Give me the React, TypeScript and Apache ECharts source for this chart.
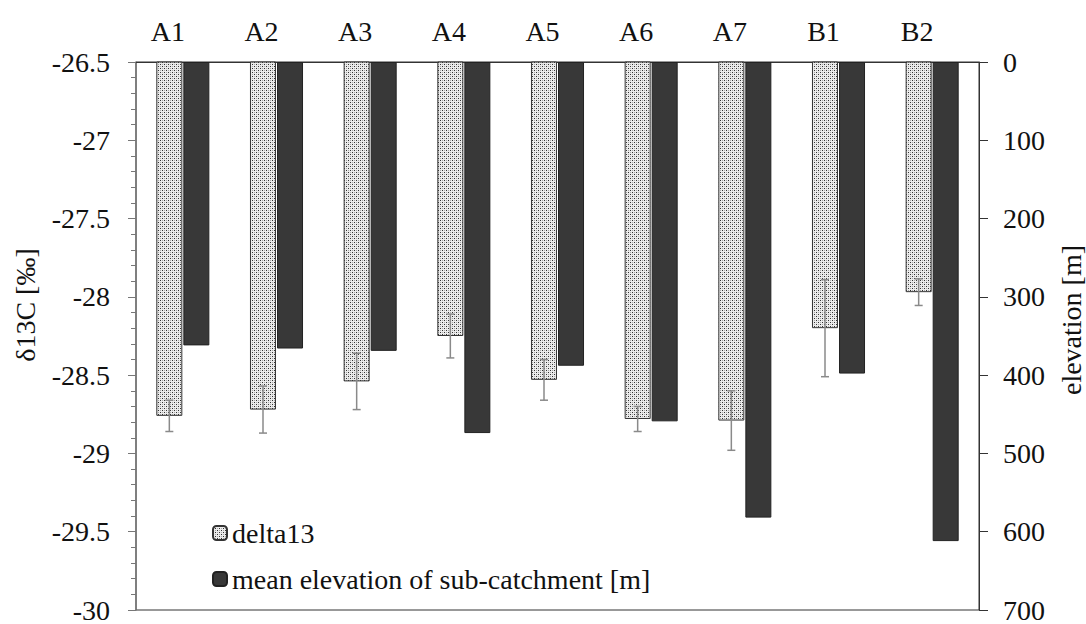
import React, { useEffect, useRef } from 'react';
import * as echarts from 'echarts';

const categories = ['A1', 'A2', 'A3', 'A4', 'A5', 'A6', 'A7', 'B1', 'B2'];
const delta13 = [-28.76, -28.72, -28.54, -28.25, -28.53, -28.78, -28.79, -28.2, -27.97];
const delta13Err = [0.1, 0.15, 0.18, 0.14, 0.13, 0.08, 0.19, 0.31, 0.085];
const elevation = [362, 366, 369, 474, 388, 459, 582, 398, 612];

const FONT = 'Liberation Serif';
const FS = 28;

function makePattern(): string {
  const c = document.createElement('canvas');
  c.width = 4;
  c.height = 4;
  const ctx = c.getContext('2d')!;
  ctx.fillStyle = '#ececec';
  ctx.fillRect(0, 0, 4, 4);
  ctx.fillStyle = '#333333';
  ctx.fillRect(0, 0, 1, 1);
  ctx.fillRect(2, 2, 1, 1);
  ctx.fillStyle = '#a8a8a8';
  ctx.fillRect(2, 0, 1, 1);
  ctx.fillRect(0, 2, 1, 1);
  return c.toDataURL();
}

export default function App() {
  const ref = useRef<HTMLDivElement>(null);
  useEffect(() => {
    if (!ref.current) return;
    const chart = echarts.init(ref.current, undefined, { renderer: 'svg' });
    const pattern = makePattern();
    const errData = categories.map((_, i) => [i, delta13[i] - delta13Err[i], delta13[i] + delta13Err[i]]);
    const option: any = {
      animation: false,
      backgroundColor: '#ffffff',
      textStyle: { fontFamily: FONT, color: '#111' },
      grid: {
        left: 136,
        right: 107,
        top: 62,
        bottom: 10,
        show: true,
        borderColor: '#333',
        borderWidth: 1,
        backgroundColor: 'transparent',
      },
      legend: {
        orient: 'vertical',
        left: 207,
        top: 513,
        itemWidth: 14,
        itemHeight: 14,
        itemGap: 16,
        textStyle: { fontFamily: FONT, fontSize: FS, color: '#111', lineHeight: 30 },
        data: ['delta13', 'mean elevation of sub-catchment [m]'],
      },
      xAxis: {
        type: 'category',
        position: 'top',
        data: categories,
        axisLine: { show: true, lineStyle: { color: '#333', width: 1 } },
        axisTick: { show: false },
        axisLabel: {
          fontFamily: FONT,
          fontSize: FS,
          color: '#111',
          margin: 17,
          padding: [0, 30, 0, 0],
        },
      },
      yAxis: [
        {
          type: 'value',
          min: -30,
          max: -26.5,
          interval: 0.5,
          position: 'left',
          splitLine: { show: false },
          axisLine: { show: true, lineStyle: { color: '#777', width: 1.5 } },
          axisTick: { show: true, inside: false, length: 8, lineStyle: { color: '#777' } },
          minorTick: { show: true, splitNumber: 5, length: 5, lineStyle: { color: '#777' } },
          axisLabel: { fontFamily: FONT, fontSize: FS, color: '#111', margin: 26 },
        },
        {
          type: 'value',
          min: 0,
          max: 700,
          interval: 100,
          inverse: true,
          position: 'right',
          splitLine: { show: false },
          axisLine: { show: true, lineStyle: { color: '#333', width: 1 } },
          axisTick: { show: true, inside: false, length: 9, lineStyle: { color: '#333' } },
          axisLabel: { fontFamily: FONT, fontSize: FS, color: '#111', margin: 24 },
        },
      ],
      series: [
        {
          name: 'delta13',
          type: 'bar',
          yAxisIndex: 0,
          data: delta13,
          barWidth: 26,
          barGap: '4%',
          clip: true,
          itemStyle: {
            color: { image: pattern, repeat: 'repeat' },
            borderColor: '#333',
            borderWidth: 1,
          },
        },
        {
          name: 'mean elevation of sub-catchment [m]',
          type: 'bar',
          yAxisIndex: 1,
          data: elevation,
          barWidth: 26,
          clip: true,
          itemStyle: { color: '#383838', borderColor: '#222', borderWidth: 1 },
        },
        {
          type: 'custom',
          yAxisIndex: 0,
          z: 10,
          data: errData,
          encode: { x: 0, y: [1, 2] },
          renderItem: (params: any, api: any) => {
            const i = api.value(0);
            const lo = api.coord([i, api.value(1)]);
            const hi = api.coord([i, api.value(2)]);
            const x = lo[0] - 13.5;
            const cap = 4;
            const style = { stroke: '#8a8a8a', lineWidth: 1.5 };
            return {
              type: 'group',
              children: [
                { type: 'line', shape: { x1: x, y1: lo[1], x2: x, y2: hi[1] }, style },
                { type: 'line', shape: { x1: x - cap, y1: lo[1], x2: x + cap, y2: lo[1] }, style },
                { type: 'line', shape: { x1: x - cap, y1: hi[1], x2: x + cap, y2: hi[1] }, style },
              ],
            };
          },
        },
      ],
      graphic: [
        {
          type: 'text',
          x: 25,
          y: 305,
          rotation: Math.PI / 2,
          style: {
            text: 'δ13C [‰]',
            fontFamily: FONT,
            fontSize: FS,
            fill: '#111',
            textAlign: 'center',
            textVerticalAlign: 'middle',
          },
        },
        {
          type: 'text',
          x: 1071,
          y: 320,
          rotation: Math.PI / 2,
          style: {
            text: 'elevation [m]',
            fontFamily: FONT,
            fontSize: FS,
            fill: '#111',
            textAlign: 'center',
            textVerticalAlign: 'middle',
          },
        },
      ],
    };
    chart.setOption(option);
    return () => chart.dispose();
  }, []);
  return (
    <div
      ref={ref}
      style={{ position: 'absolute', left: 0, top: 0, width: 1086, height: 624 }}
    />
  );
}
